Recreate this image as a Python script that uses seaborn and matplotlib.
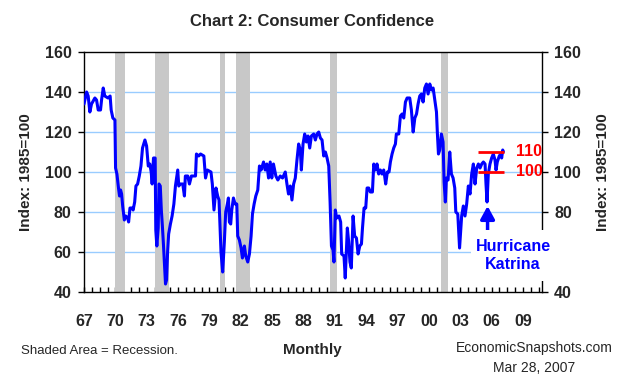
import numpy as np
import pandas as pd
import matplotlib
matplotlib.use("Agg")
import matplotlib.pyplot as plt
import seaborn as sns
from matplotlib.patches import Rectangle

# Consumer confidence index (1985=100)
dates = [
    1967.00, 1967.25, 1967.40, 1967.56, 1967.72, 1968.04, 1968.20, 1968.36, 1968.58, 1968.68,
    1968.84, 1968.99, 1969.30, 1969.50, 1969.60, 1969.76, 1969.96, 1970.02, 1970.15, 1970.30,
    1970.40, 1970.50, 1970.60, 1970.70, 1970.86, 1971.00, 1971.18, 1971.27, 1971.40, 1971.60,
    1971.70, 1971.85, 1971.97, 1972.13, 1972.29, 1972.45, 1972.60, 1972.83, 1972.99, 1973.15,
    1973.30, 1973.43, 1973.52, 1973.65, 1973.81, 1973.87, 1973.97, 1974.10, 1974.18, 1974.30,
    1974.40, 1974.50, 1974.60, 1974.70, 1974.80, 1974.90, 1975.00, 1975.10, 1975.27, 1975.43,
    1975.60, 1975.75, 1975.97, 1976.07, 1976.23, 1976.45, 1976.61, 1976.70, 1976.93, 1977.09,
    1977.28, 1977.50, 1977.67, 1977.76, 1977.98, 1978.15, 1978.47, 1978.63, 1978.80, 1979.15,
    1979.28, 1979.44, 1979.63, 1979.79, 1979.92, 1980.11, 1980.27, 1980.43, 1980.56, 1980.72,
    1980.82, 1980.91, 1981.04, 1981.14, 1981.30, 1981.46, 1981.62, 1981.71, 1981.87, 1982.03,
    1982.16, 1982.35, 1982.48, 1982.67, 1982.83, 1982.99, 1983.12, 1983.28, 1983.44, 1983.63,
    1983.79, 1983.95, 1984.18, 1984.34, 1984.50, 1984.66, 1984.82, 1984.97, 1985.13, 1985.36,
    1985.55, 1985.78, 1986.00, 1986.26, 1986.42, 1986.57, 1986.74, 1986.90, 1987.06, 1987.22,
    1987.38, 1987.54, 1987.70, 1987.80, 1987.96, 1988.12, 1988.28, 1988.44, 1988.60, 1988.76,
    1988.98, 1989.14, 1989.30, 1989.46, 1989.62, 1989.78, 1989.94, 1990.10, 1990.26, 1990.42,
    1990.55, 1990.68, 1990.83, 1990.92, 1991.05, 1991.18, 1991.40, 1991.56, 1991.66, 1991.88,
    1992.00, 1992.10, 1992.20, 1992.33, 1992.45, 1992.58, 1992.75, 1992.90, 1993.07, 1993.23,
    1993.39, 1993.55, 1993.65, 1993.80, 1993.96, 1994.09, 1994.25, 1994.40, 1994.60, 1994.73,
    1994.88, 1995.04, 1995.20, 1995.36, 1995.52, 1995.68, 1995.77, 1995.87, 1996.03, 1996.19,
    1996.32, 1996.48, 1996.64, 1996.80, 1996.89, 1997.12, 1997.28, 1997.44, 1997.60, 1997.76,
    1997.92, 1998.17, 1998.33, 1998.50, 1998.66, 1998.82, 1998.97, 1999.13, 1999.29, 1999.45,
    1999.61, 1999.77, 1999.93, 2000.09, 2000.25, 2000.41, 2000.57, 2000.73, 2000.82, 2000.92,
    2001.04, 2001.20, 2001.36, 2001.46, 2001.58, 2001.68, 2001.84, 2002.00, 2002.16, 2002.32,
    2002.48, 2002.58, 2002.77, 2002.94, 2003.14, 2003.30, 2003.46, 2003.62, 2003.78, 2003.94,
    2004.10, 2004.26, 2004.42, 2004.58, 2004.74, 2004.90, 2005.06, 2005.22, 2005.38, 2005.47,
    2005.57, 2005.69, 2005.85, 2006.01, 2006.17, 2006.33, 2006.43, 2006.55, 2006.74, 2006.87,
    2006.97, 2007.07, 2007.13,
]
confidence = [
    134, 140, 138, 130, 134, 137, 136, 131, 131, 136,
    142, 138, 137, 138, 131, 127, 126, 102, 99, 92,
    88, 91, 89, 83, 76, 78, 77, 75, 82, 82,
    81, 85, 93, 94, 98, 103, 112, 116, 113, 103,
    104, 100, 94, 107, 107, 71, 63, 72, 94, 93,
    81, 73, 64, 54, 44, 46, 60, 69, 74, 78,
    84, 93, 101, 93, 94, 94, 88, 98, 98, 94,
    98, 98, 98, 109, 108, 109, 108, 97, 101, 100,
    94, 81, 92, 88, 86, 60, 50, 65, 80, 84,
    87, 75, 74, 81, 87, 84, 84, 68, 66, 62,
    57, 63, 58, 55, 59, 68, 79, 84, 88, 91,
    103, 101, 105, 101, 104, 97, 105, 97, 104, 98,
    96, 98, 97, 100, 94, 89, 93, 86, 94, 97,
    106, 114, 111, 101, 114, 119, 115, 118, 112, 118,
    119, 116, 119, 120, 117, 116, 108, 110, 107, 103,
    85, 63, 61, 55, 81, 77, 78, 75, 59, 58,
    47, 60, 72, 65, 55, 52, 78, 68, 67, 59,
    63, 64, 72, 82, 82, 92, 92, 90, 90, 104,
    101, 104, 99, 101, 99, 101, 98, 94, 100, 100,
    105, 109, 112, 114, 119, 119, 128, 129, 127, 135,
    137, 137, 131, 120, 127, 129, 134, 138, 139, 135,
    142, 144, 139, 144, 141, 142, 136, 130, 119, 109,
    111, 119, 115, 95, 85, 97, 96, 110, 99, 97,
    92, 80, 79, 62, 78, 83, 78, 84, 93, 89,
    99, 104, 94, 102, 104, 102, 104, 105, 104, 94,
    85, 99, 104, 107, 109, 106, 101, 105, 108, 109,
    107, 111, 110,
]

# NBER recessions (start, end) in decimal years
rec_start = [1969.92, 1973.83, 1980.00, 1981.50, 1990.50, 2001.17]
rec_end = [1970.88, 1975.17, 1980.50, 1982.88, 1991.17, 2001.83]

year_labels = ["67", "70", "73", "76", "79", "82", "85", "88", "91", "94", "97", "00", "03", "06", "09"]
y_ticks = [40, 60, 80, 100, 120, 140, 160]

df = pd.DataFrame({"date": dates, "index": confidence})

sns.set_theme(style="white")
plt.rcParams["font.family"] = ["Liberation Sans", "DejaVu Sans"]

fig = plt.figure(figsize=(6.25, 3.9), dpi=100)
ax = fig.add_axes([84 / 625, 98 / 390, 457.7 / 625, 240 / 390])

# grid lines
for v in y_ticks[1:-1]:
    ax.axhline(v, color="#99CCFF", lw=1, zorder=0)

# recession shading
for s, e in zip(rec_start, rec_end):
    ax.axvspan(s, e, color="#C8C8C8", lw=0, zorder=1)

sns.lineplot(data=df, x="date", y="index", ax=ax, color="#0000FF", lw=2.2,
             estimator=None, sort=False, zorder=3)

ax.set_xlim(1967, 2010.8)
ax.set_ylim(40, 160)
ax.set_xlabel("")
ax.set_ylabel("")

# x axis: tick every 9 months, label every 3 years
xt = np.arange(1967, 2010.9, 0.75)
ax.set_xticks(xt)
lab = []
for i in range(len(xt)):
    lab.append(year_labels[i // 4] if i % 4 == 0 and i // 4 < len(year_labels) else "")
ax.set_xticklabels(lab)
ax.tick_params(axis="x", direction="in", length=3.5, width=1, color="black",
               pad=16, labelsize=11.5, bottom=True)

ax.set_yticks(y_ticks)
ax.tick_params(axis="y", direction="out", length=4, width=1, color="black",
               left=True, right=True, labelleft=True, labelright=True,
               pad=5, labelsize=11.5)
for t in ax.get_xticklabels() + ax.get_yticklabels():
    t.set_fontweight("bold")
for t in ax.yaxis.majorTicks:
    t.label2.set_fontweight("bold")

for sp in ax.spines.values():
    sp.set_color("black")
    sp.set_linewidth(1)

# 100 / 110 markers
ax.hlines([110, 100], 2004.7, 2007.2, color="red", lw=2, zorder=4)
ax.text(2008.3, 110, "110", color="red", fontsize=11.5, fontweight="bold",
        va="center", ha="left", zorder=6, clip_on=False)
ax.text(2008.3, 100, "100", color="red", fontsize=11.5, fontweight="bold",
        va="center", ha="left", zorder=6, clip_on=False)

# Katrina annotation: white box covers grid, spine and right "60" label
fig.patches.append(Rectangle((471 / 625, 1 - 281 / 390), 110 / 625, 51 / 390,
                             transform=fig.transFigure, facecolor="white",
                             edgecolor="none", zorder=10))
ax.annotate("", xy=(2005.62, 83), xytext=(2005.62, 70.5),
            arrowprops=dict(arrowstyle="-|>,head_length=0.55,head_width=0.3",
                            color="#0000FF", lw=2.5, shrinkA=0, shrinkB=0,
                            mutation_scale=14),
            zorder=5)
fig.text(513 / 625, 1 - 255.5 / 390, "Hurricane\nKatrina", color="#0000FF", fontsize=11.5,
         fontweight="bold", ha="center", va="center", linespacing=1.3, zorder=11)

fig.text(312 / 625, 1 - 21 / 390, "Chart 2: Consumer Confidence", ha="center", va="center",
         fontsize=12, fontweight="bold")
fig.text(26 / 625, 1 - 172 / 390, "Index: 1985=100", rotation=90, ha="center", va="center",
         fontsize=11, fontweight="bold")
fig.text(603 / 625, 1 - 172 / 390, "Index: 1985=100", rotation=90, ha="center", va="center",
         fontsize=11, fontweight="bold")
fig.text(21 / 625, 1 - 351 / 390, "Shaded Area = Recession.", ha="left", va="center",
         fontsize=9.5)
fig.text(312 / 625, 1 - 350 / 390, "Monthly", ha="center", va="center",
         fontsize=11, fontweight="bold")
fig.text(534 / 625, 1 - 348 / 390, "EconomicSnapshots.com", ha="center", va="center",
         fontsize=10)
fig.text(534 / 625, 1 - 368 / 390, "Mar 28, 2007", ha="center", va="center",
         fontsize=10)

fig.savefig("out.png", dpi=100)
